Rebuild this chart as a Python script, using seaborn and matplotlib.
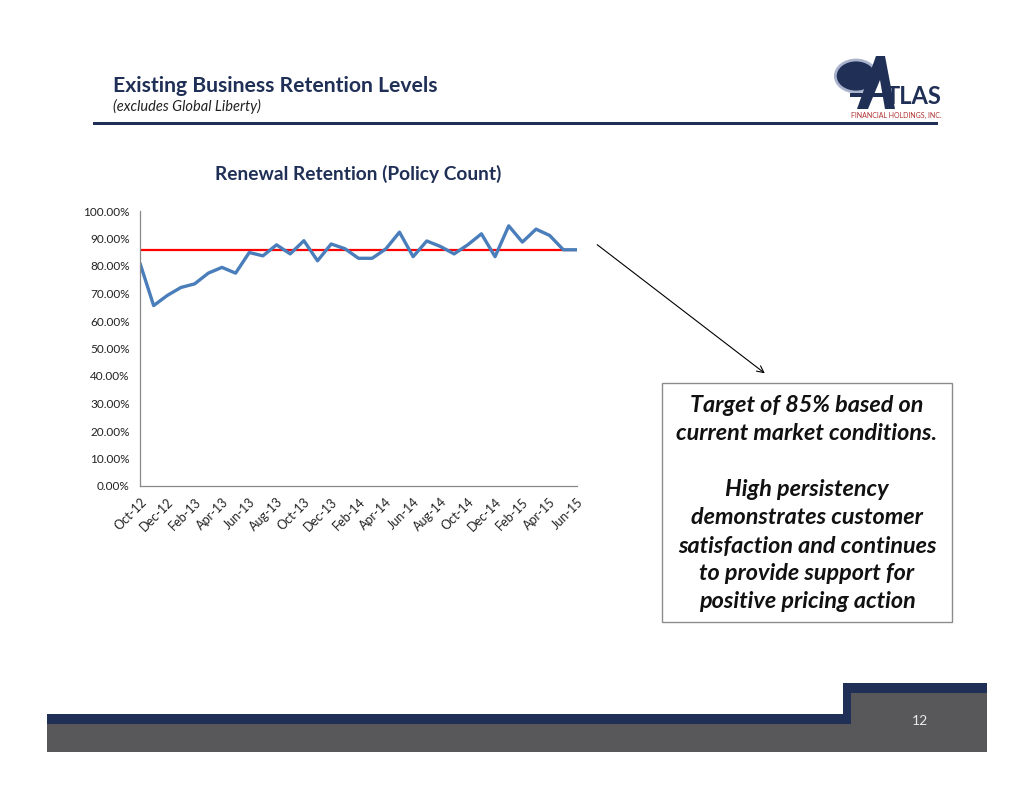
import numpy as np
import pandas as pd
import matplotlib
matplotlib.use("Agg")
import matplotlib.pyplot as plt
from matplotlib.patches import Rectangle, Circle, Polygon, FancyArrowPatch
from matplotlib.ticker import PercentFormatter
import seaborn as sns

# --- data ---
months = ["Oct-12", "Nov-12", "Dec-12", "Jan-13", "Feb-13", "Mar-13", "Apr-13", "May-13",
          "Jun-13", "Jul-13", "Aug-13", "Sep-13", "Oct-13", "Nov-13", "Dec-13", "Jan-14",
          "Feb-14", "Mar-14", "Apr-14", "May-14", "Jun-14", "Jul-14", "Aug-14", "Sep-14",
          "Oct-14", "Nov-14", "Dec-14", "Jan-15", "Feb-15", "Mar-15", "Apr-15", "May-15",
          "Jun-15"]
retention = [81.0, 65.6, 69.3, 72.2, 73.5, 77.4, 79.5, 77.4, 84.9, 83.7, 87.7, 84.4,
             89.2, 81.9, 88.0, 86.3, 82.8, 82.8, 86.2, 92.3, 83.4, 89.1, 87.1, 84.4,
             87.7, 91.7, 83.4, 94.6, 88.7, 93.4, 91.1, 85.9, 85.9]
target = [86.0] * len(months)

df = pd.DataFrame({"month": months, "pos": range(len(months)),
                   "retention": retention, "target": target})

NAVY = "#1f2f55"
GRAY = "#58585a"
W, H = 1034, 799

sns.set_style("white")
plt.rcParams["font.family"] = ["Lato", "DejaVu Sans"]

fig = plt.figure(figsize=(W / 100, H / 100), dpi=100)


def fx(x):
    return x / W


def fy(y):
    return 1 - y / H


# --- chart ---
ax = fig.add_axes([fx(140), fy(486), fx(577) - fx(140), fy(211) - fy(486)])
sns.lineplot(data=df, x="pos", y="target", color="#ff0000", linewidth=1.6, ax=ax)
sns.lineplot(data=df, x="pos", y="retention", color="#4a7ebb", linewidth=2.4, ax=ax)
ax.set_xlim(0, len(months) - 1)
ax.set_ylim(0, 100)
ax.set_yticks(np.arange(0, 101, 10))
ax.yaxis.set_major_formatter(PercentFormatter(decimals=2))
ax.set_xticks(df["pos"][::2])
ax.set_xticklabels(df["month"][::2], rotation=45, ha="right", rotation_mode="anchor")
ax.tick_params(axis="both", labelsize=8.5, colors="#888888", labelcolor="#222222",
               length=4, width=0.8, direction="out")
ax.tick_params(axis="x", labelsize=9, pad=3)
ax.set_xlabel("")
ax.set_ylabel("")
for s in ["top", "right"]:
    ax.spines[s].set_visible(False)
for s in ["left", "bottom"]:
    ax.spines[s].set_color("#888888")
    ax.spines[s].set_linewidth(0.9)
ax.set_title("Renewal Retention (Policy Count)", fontsize=13.8, fontweight="bold",
             color=NAVY, pad=22)

# --- header ---
fig.text(fx(113), fy(86), "Existing Business Retention Levels", fontsize=15.2,
         fontweight="bold", color=NAVY, va="center")
fig.text(fx(113), fy(106), "(excludes Global Liberty)", fontsize=10.5,
         style="italic", color="#222222", va="center")
fig.add_artist(Rectangle((fx(93), fy(125)), fx(938) - fx(93), fy(122) - fy(125),
                         transform=fig.transFigure, color=NAVY, lw=0))

# --- logo ---
fig.add_artist(Circle((fx(856), fy(76)), 0.02, transform=fig.transFigure,
                      facecolor=NAVY, edgecolor="#a9b4cc", lw=2))
a_shape = [(fx(857), fy(109)), (fx(876), fy(56)), (fx(885), fy(56)),
           (fx(895), fy(109)), (fx(885), fy(109)), (fx(880), fy(80)),
           (fx(868), fy(109))]
fig.add_artist(Polygon(a_shape, closed=True, transform=fig.transFigure,
                       facecolor=NAVY, edgecolor="none"))
fig.add_artist(Rectangle((fx(850), fy(97)), fx(892) - fx(850), fy(93) - fy(97),
                         transform=fig.transFigure, color=NAVY, lw=0))
fig.text(fx(942), fy(97), "TLAS", fontsize=17, fontweight="bold", color=NAVY,
         va="center", ha="right")
fig.text(fx(896), fy(115), "FINANCIAL HOLDINGS, INC.", fontsize=5, color="#b03030",
         va="center", ha="center")

# --- arrow and callout box ---
fig.add_artist(FancyArrowPatch((fx(595), fy(243)), (fx(767), fy(375)),
                               transform=fig.transFigure, arrowstyle="->",
                               mutation_scale=12, color="black", lw=0.8))
fig.add_artist(Rectangle((fx(662), fy(622)), fx(952) - fx(662), fy(383) - fy(622),
                         transform=fig.transFigure, facecolor="white",
                         edgecolor="#8c8c8c", lw=1))
box_lines = [("Target of 85% based on", 405), ("current market conditions.", 434),
             ("High persistency", 489), ("demonstrates customer", 518),
             ("satisfaction and continues", 546), ("to provide support for", 574),
             ("positive pricing action", 601)]
for txt, y in box_lines:
    fig.text(fx(807), fy(y), txt, fontsize=16.8, fontweight="bold", style="italic",
             color="#111111", ha="center", va="center")

# --- footer ---
fig.add_artist(Rectangle((fx(47), fy(752)), fx(987) - fx(47), fy(714) - fy(752),
                         transform=fig.transFigure, color=NAVY, lw=0))
fig.add_artist(Rectangle((fx(843), fy(752)), fx(987) - fx(843), fy(683) - fy(752),
                         transform=fig.transFigure, color=NAVY, lw=0))
fig.add_artist(Rectangle((fx(47), fy(752)), fx(987) - fx(47), fy(724) - fy(752),
                         transform=fig.transFigure, color=GRAY, lw=0))
fig.add_artist(Rectangle((fx(851), fy(752)), fx(987) - fx(851), fy(693) - fy(752),
                         transform=fig.transFigure, color=GRAY, lw=0))
fig.text(fx(920), fy(721), "12", fontsize=10, color="#e8e8e8", ha="center", va="center")

fig.savefig("out.png", dpi=100)
